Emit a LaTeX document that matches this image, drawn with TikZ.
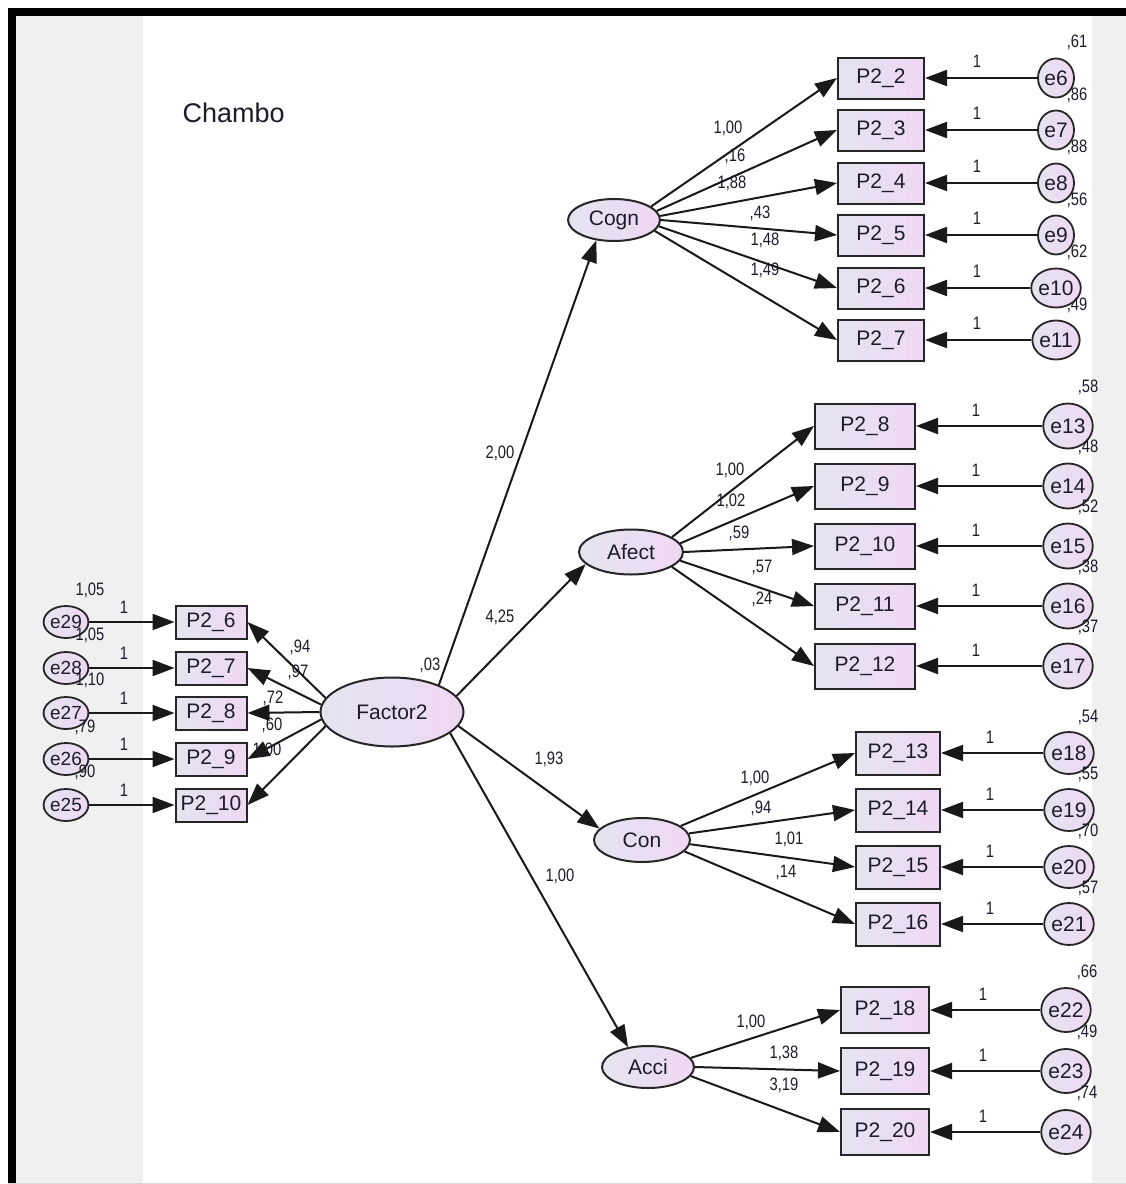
\documentclass[tikz,border=0pt]{standalone}
\usepackage{fontspec}
\setmainfont{Liberation Sans}
\newfontfamily\numfont[FakeStretch=0.82]{Liberation Sans}
\usetikzlibrary{arrows.meta,shapes.geometric}
\definecolor{fillL}{HTML}{E4E4F0}
\definecolor{fillR}{HTML}{EFD8F3}
\definecolor{txt}{HTML}{1C1C2A}
\definecolor{stripgrey}{HTML}{F0F0F0}
\begin{document}
\begin{tikzpicture}[x=1pt,y=-1pt,
  obs/.style={rectangle, draw=black!85, line width=2pt, left color=fillL, right color=fillR, inner sep=0pt, font=\fontsize{21}{21}\selectfont, text=txt},
  lat/.style={ellipse, draw=black!85, line width=2pt, left color=fillL, right color=fillR, inner sep=0pt, font=\fontsize{21}{21}\selectfont, text=txt},
  err/.style={ellipse, draw=black!85, line width=1.8pt, left color=fillL, right color=fillR, inner sep=0pt, font=\fontsize{21}{21}\selectfont, text=txt},
  num/.style={font=\numfont\fontsize{18}{18}\selectfont, text=txt, inner sep=0pt},
  conn/.style={line width=2pt, draw=black!90, -{Triangle[length=22pt,width=16pt]}},
]
\useasboundingbox (0,0) rectangle (1126,1184);
% background and frame
\fill[white] (0,0) rectangle (1126,1184);
\fill[stripgrey] (16,16) rectangle (143,1184);
\fill[stripgrey] (1092,16) rectangle (1126,1184);
\fill[black] (8,8) rectangle (1126,16);
\fill[black] (8,8) rectangle (16,1184);
\draw[black!15, line width=1pt] (8,1183.5) -- (1126,1183.5);

\node[anchor=west, font=\fontsize{27}{27}\selectfont, text=txt] (title) at (179,113) {Chambo};

% latent variables
\node[lat, minimum width=143, minimum height=69] (f2) at (392,712) {Factor2};
\node[lat, minimum width=92, minimum height=42] (cogn) at (614,220) {Cogn};
\node[lat, minimum width=104, minimum height=45] (afect) at (631,552) {Afect};
\node[lat, minimum width=96, minimum height=44] (con) at (642,840) {Con};
\node[lat, minimum width=92, minimum height=42] (acci) at (648,1067) {Acci};

% Cogn block
\foreach \k/\e/\y in {2/6/78,3/7/130,4/8/183,5/9/235,6/10/288,7/11/340} {
  \node[obs, minimum width=86, minimum height=41] (b\k) at (881,\y) {P2\_\k};
  \node[err, minimum width=36, minimum height=39] (e\e) at (1056,\y) {e\e};
  \draw[conn] (e\e) -- (b\k);
  \node[num] at (977,\y-17) {1};
}
\draw[conn] (cogn.20) -- (b2.west);
\draw[conn] (cogn.12) -- (b3.west);
\draw[conn] (cogn.5) -- (b4.west);
\draw[conn] (cogn.0) -- (b5.west);
\draw[conn] (cogn.-8) -- (b6.west);
\draw[conn] (cogn.-15) -- (b7.west);
\node[num] at (728,128) {1,00};
\node[num] at (735,156) {,16};
\node[num] at (732,183) {1,88};
\node[num] at (760,213) {,43};
\node[num] at (765,240) {1,48};
\node[num] at (765,270) {1,49};
\node[num] at (1077,42) {,61};
\node[num] at (1077,95) {,86};
\node[num] at (1077,147) {,88};
\node[num] at (1077,200) {,56};
\node[num] at (1077,252) {,62};
\node[num] at (1077,305) {,49};

% Afect block
\foreach \k/\e/\y in {8/13/426,9/14/486,10/15/546,11/16/606,12/17/666} {
  \node[obs, minimum width=100, minimum height=45] (b\k) at (865,\y) {P2\_\k};
  \node[err, minimum width=42, minimum height=45] (e\e) at (1068,\y) {e\e};
  \draw[conn] (e\e) -- (b\k);
  \node[num] at (976,\y-16) {1};
}
\draw[conn] (afect.20) -- (b8.west);
\draw[conn] (afect.10) -- (b9.west);
\draw[conn] (afect.0) -- (b10.west);
\draw[conn] (afect.-10) -- (b11.west);
\draw[conn] (afect.-20) -- (b12.west);
\node[num] at (730,470) {1,00};
\node[num] at (731,501) {1,02};
\node[num] at (739,533) {,59};
\node[num] at (762,567) {,57};
\node[num] at (762,599) {,24};
\node[num] at (1088,387) {,58};
\node[num] at (1088,447) {,48};
\node[num] at (1088,507) {,52};
\node[num] at (1088,567) {,38};
\node[num] at (1088,627) {,37};

% Con block
\foreach \k/\e/\y in {13/18/753,14/19/810,15/20/867,16/21/924} {
  \node[obs, minimum width=84, minimum height=43] (b\k) at (898,\y) {P2\_\k};
  \node[err, minimum width=38, minimum height=42] (e\e) at (1069,\y) {e\e};
  \draw[conn] (e\e) -- (b\k);
  \node[num] at (990,\y-16) {1};
}
\draw[conn] (con.20) -- (b13.west);
\draw[conn] (con.8) -- (b14.west);
\draw[conn] (con.-5) -- (b15.west);
\draw[conn] (con.-15) -- (b16.west);
\node[num] at (755,778) {1,00};
\node[num] at (761,808) {,94};
\node[num] at (789,839) {1,01};
\node[num] at (786,872) {,14};
\node[num] at (1088,717) {,54};
\node[num] at (1088,774) {,55};
\node[num] at (1088,831) {,70};
\node[num] at (1088,888) {,57};

% Acci block
\foreach \k/\e/\y in {18/22/1010,19/23/1071,20/24/1132} {
  \node[obs, minimum width=88, minimum height=46] (b\k) at (885,\y) {P2\_\k};
  \node[err, minimum width=41, minimum height=44] (e\e) at (1066,\y) {e\e};
  \draw[conn] (e\e) -- (b\k);
  \node[num] at (983,\y-16) {1};
}
\draw[conn] (acci.12) -- (b18.west);
\draw[conn] (acci.0) -- (b19.west);
\draw[conn] (acci.-12) -- (b20.west);
\node[num] at (751,1022) {1,00};
\node[num] at (784,1053) {1,38};
\node[num] at (784,1085) {3,19};
\node[num] at (1087,972) {,66};
\node[num] at (1087,1032) {,49};
\node[num] at (1087,1093) {,74};

% structural paths
\draw[conn] (f2.30) -- (cogn.229);
\draw[conn] (f2.14) -- (afect.195);
\draw[conn] (f2.-12) -- (con.165);
\draw[conn] (f2.-20) -- (acci.135);
\node[num] at (500,453) {2,00};
\node[num] at (500,617) {4,25};
\node[num] at (549,759) {1,93};
\node[num] at (560,876) {1,00};
\node[num] at (430,665) {,03};

% left indicators of Factor2
\foreach \k/\e/\y in {6/29/622,7/28/668,8/27/713,9/26/759,10/25/805} {
  \node[obs, minimum width=71, minimum height=33] (l\k) at (211,\y) {P2\_\k};
  \node[err, minimum width=30, minimum height=32, font=\fontsize{19}{19}\selectfont] (e\e) at (66,\y) {e\e};
  \draw[conn] (e\e) -- (l\k);
  \node[num] at (124,\y-15) {1};
}
\draw[conn] (f2.168) -- (l6.east);
\draw[conn] (f2.174) -- (l7.east);
\draw[conn] (f2.180) -- (l8.east);
\draw[conn] (f2.186) -- (l9.east);
\draw[conn] (f2.192) -- (l10.east);
\node[num] at (300,647) {,94};
\node[num] at (298,672) {,97};
\node[num] at (273,698) {,72};
\node[num] at (272,725) {,60};
\node[num] at (267,750) {1,00};
\node[num] at (90,590) {1,05};
\node[num] at (90,635) {1,05};
\node[num] at (90,680) {1,10};
\node[num] at (85,727) {,79};
\node[num] at (85,772) {,90};
\end{tikzpicture}
\end{document}
